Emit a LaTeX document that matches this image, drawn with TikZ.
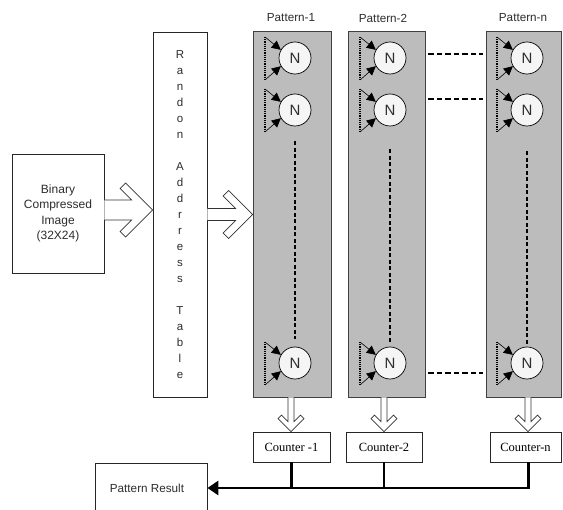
\documentclass[tikz,border=0pt]{standalone}
\usepackage{fontspec}
\setmainfont{Liberation Serif}
\newfontfamily\arialf{Liberation Sans}
\usetikzlibrary{calc,arrows.meta}
\definecolor{pgray}{RGB}{188,188,188}
\definecolor{txtc}{RGB}{45,45,45}
\newcommand{\hollowR}[5]{%
  \draw[hollow] ($(#1)+(0,-#3)$) -- ($(#2)+({-#5-#3},-#3)$) -- ($(#2)+({-#4-#5/2},{-#4+#5/2})$) -- ($(#2)+(-#4,-#4)$) -- (#2) -- ($(#2)+(-#4,#4)$) -- ($(#2)+({-#4-#5/2},{#4-#5/2})$) -- ($(#2)+({-#5-#3},#3)$) -- ($(#1)+(0,#3)$);}
\newcommand{\hollowD}[5]{%
  \draw[hollow] ($(#1)+(-#3,0)$) -- ($(#2)+(-#3,{-#5-#3})$) -- ($(#2)+({-#4+#5/2},{-#4-#5/2})$) -- ($(#2)+(-#4,-#4)$) -- (#2) -- ($(#2)+(#4,-#4)$) -- ($(#2)+({#4-#5/2},{-#4-#5/2})$) -- ($(#2)+(#3,{-#5-#3})$) -- ($(#1)+(#3,0)$);}
\tikzset{
  x=1pt, y=-1pt,
  whitebox/.style={draw=black!85, line width=0.8pt, fill=white, inner sep=0pt},
  patbox/.style={draw=black!75, line width=0.8pt, fill=pgray, inner sep=0pt, minimum width=#1, minimum height=366},
  neuron/.style={circle, draw=black, line width=0.7pt, fill=white!96!black, minimum size=32, inner sep=0pt, font=\arialf\fontsize{15}{15}\selectfont, text=txtc},
  title/.style={font=\arialf\fontsize{11.7}{14}\selectfont, text=txtc},
  ctr/.style={whitebox, minimum height=30, font=\fontsize{12.5}{14}\selectfont},
  hollow/.style={draw=black!80, line width=0.6pt, fill=white, line join=miter},
  inarrow/.style={line width=0.6pt, -{Triangle[length=9pt,width=9pt]}},
  dotline/.style={line width=1.2pt, dash pattern=on 1.2pt off 1pt},
  dashline/.style={line width=1.5pt, dash pattern=on 5.5pt off 3pt},
  vdash/.style={line width=1.2pt, dash pattern=on 4pt off 2.5pt},
  bus/.style={line width=2.8pt}
}
\begin{document}
\begin{tikzpicture}
\useasboundingbox (0,0) rectangle (563,510);
\clip (0,0) rectangle (563,510);
\fill[white] (0,0) rectangle (563,510);

% input image box
\node[whitebox, minimum width=92, minimum height=119, align=center,
      font=\arialf\fontsize{12}{15.5}\selectfont, text=txtc] (bin) at (58,213.5)
      {Binary\\Compressed\\Image\\(32X24)};

% random address table
\node[whitebox, minimum width=54, minimum height=365, align=center,
      font=\arialf\fontsize{11.5}{16}\selectfont, text=txtc] (rat) at (180,214.5)
      {R\\a\\n\\d\\o\\n\\\mbox{}\\A\\d\\d\\r\\r\\e\\s\\s\\\mbox{}\\T\\a\\b\\l\\e};

% pattern boxes
\node[patbox=78] (p1) at (292,214) {};
\node[patbox=77] (p2) at (386.5,214) {};
\node[patbox=75] (pn) at (523.5,214) {};

\node[title] (t1) at (291,18) {Pattern-1};
\node[title] (t2) at (383,18) {Pattern-2};
\node[title] (tn) at (523,18) {Pattern-n};

% hollow arrows
\coordinate (a1s) at ($(bin.east)+(0,-3.5)$);
\coordinate (a1t) at (rat.west |- a1s);
\hollowR{a1s}{a1t}{10}{27}{11}
\coordinate (a2s) at (rat.east);
\coordinate (a2t) at (p1.west |- a2s);
\hollowR{a2s}{a2t}{6}{24}{11}

% neurons
\foreach \c/\x in {1/295,2/390,n/527}{
  \foreach \r/\y in {1/58,2/110,3/363}{
    \node[neuron] (n\c\r) at (\x,\y) {N};
    \draw[dotline] ($(n\c\r.center)+(-30,-21)$) coordinate (u\c\r) -- ($(n\c\r.center)+(-30,22)$) coordinate (l\c\r);
    \draw[inarrow] (u\c\r) -- (n\c\r.150);
    \draw[inarrow] (l\c\r) -- (n\c\r.210);
  }
}

% vertical dashed lines inside boxes
\draw[vdash] ($(n12.south)+(0,15)$) -- ($(n13.north)+(0,-8)$);
\draw[vdash] ($(n22.south)+(0,23)$) -- ($(n23.north)+(0,-3)$);
\draw[vdash] ($(nn2.south)+(0,25)$) -- ($(nn3.north)+(0,-3)$);

% horizontal dashed lines between Pattern-2 and Pattern-n
\draw[dashline] ($(n21.east)+(22,-4)$) -- ($(nn1.west)+(-28,-4)$);
\draw[dashline] ($(n22.east)+(22,-11)$) -- ($(nn2.west)+(-28,-11)$);
\draw[dashline] ($(n23.east)+(22,10)$) -- ($(nn3.west)+(-28,10)$);

% counters
\node[ctr, minimum width=77] (c1) at (291.5,447) {Counter -1};
\node[ctr, minimum width=76] (c2) at (384,447) {Counter-2};
\node[ctr, minimum width=71] (cn) at (525.5,447) {Counter-n};

% down hollow arrows
\coordinate (d1s) at ($(p1.south)+(-1,0)$);
\coordinate (d1t) at (d1s |- c1.north);
\hollowD{d1s}{d1t}{3}{13}{7}
\coordinate (d2s) at ($(p2.south)+(-2.5,0)$);
\coordinate (d2t) at (d2s |- c2.north);
\hollowD{d2s}{d2t}{3}{13}{7}
\coordinate (dns) at ($(pn.south)+(4.5,0)$);
\coordinate (dnt) at (dns |- cn.north);
\hollowD{dns}{dnt}{3}{13}{7}

% pattern result
\node[whitebox, minimum width=112, minimum height=50, font=\arialf\fontsize{11.7}{14}\selectfont, text=txtc] (pr) at (151,488) {};
\node[font=\arialf\fontsize{11.7}{14}\selectfont, text=txtc] (prt) at (147,488) {Pattern Result};

% result bus
\draw[bus, -{Triangle[length=11pt,width=14pt]}] ($(cn.south)+(3,0)$) |- (pr.east);
\draw[bus] (c1.south) -- (c1.south |- pr.east);
\draw[bus] (c2.south) -- (c2.south |- pr.east);
\end{tikzpicture}
\end{document}
